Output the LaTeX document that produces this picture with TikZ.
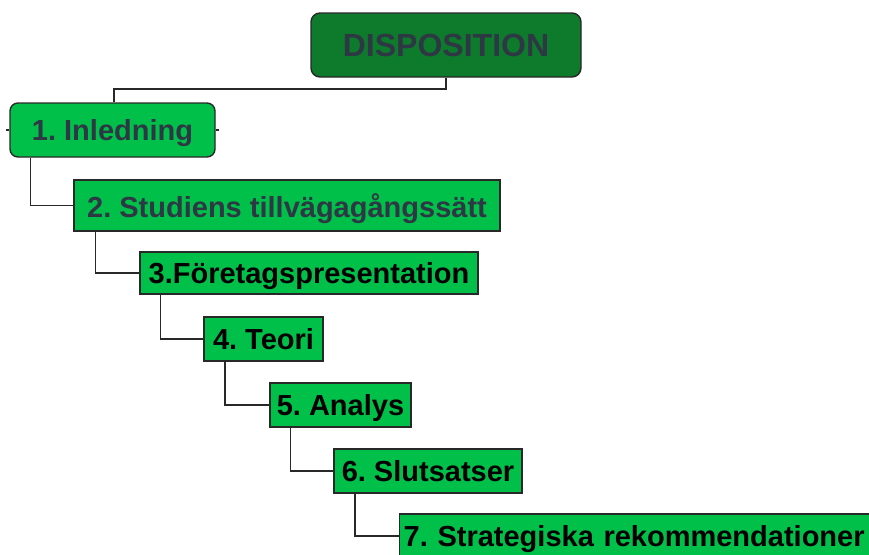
\documentclass[tikz,border=0pt]{standalone}
\usepackage{fontspec}
\setmainfont{Liberation Sans}
\frenchspacing
\definecolor{boxgreen}{RGB}{0,192,74}
\definecolor{darkgreen}{RGB}{14,122,44}
\definecolor{slate}{RGB}{46,56,68}
\definecolor{edgegray}{RGB}{40,40,40}
\begin{document}
\begin{tikzpicture}[x=1pt,y=-1pt,
  chapter/.style={draw=edgegray,line width=1.4pt,fill=boxgreen,inner sep=0pt,
    font=\fontsize{29}{34}\selectfont\bfseries,text=black,text depth=0pt},
  topbox/.style={chapter,rounded corners=9pt},
  link/.style={draw=edgegray,line width=1.6pt}]
\clip (0,0) rectangle (869,554);
\fill[white] (0,0) rectangle (869,554);

% title and chapter boxes
\node[topbox,fill=darkgreen,text=slate,minimum width=270pt,minimum height=64pt,
  font=\fontsize{32}{36}\selectfont\bfseries] (D) at (446,45) {DISPOSITION};
\node[topbox,rounded corners=8pt,text=slate,minimum width=205pt,minimum height=54pt] (n1) at (112.5,130) {1. Inledning};
\node[chapter,text=slate,minimum width=426pt,minimum height=51pt] (n2) at (287,205.5) {2. Studiens tillvägagångssätt};
\node[chapter,minimum width=338pt,minimum height=42pt] (n3) at (309,273) {3.Företagspresentation};
\node[chapter,minimum width=119pt,minimum height=44pt] (n4) at (263.5,339) {4. Teori};
\node[chapter,minimum width=141pt,minimum height=44pt] (n5) at (340.5,405) {5. Analys};
\node[chapter,minimum width=188pt,minimum height=44pt] (n6) at (428,471) {6. Slutsatser};
\node[chapter,anchor=west,inner xsep=4pt,text width=476pt,align=left,minimum height=44pt] (n7) at (399,536) {7. Strategiska rekommendationer};

% connectors
\draw[link] (D.south) -- (D.south |- 0,88.7) -| ([xshift=1.5pt]n1.north);
\draw[link] ([xshift=21pt]n1.south west) |- (n2.west);
\draw[link] ([xshift=22pt]n2.south west) |- (n3.west);
\draw[link] ([xshift=21pt]n3.south west) |- (n4.west);
\draw[link] ([xshift=21.7pt]n4.south west) |- (n5.west);
\draw[link] ([xshift=21pt]n5.south west) |- (n6.west);
\draw[link] ([xshift=21.7pt]n6.south west) |- (n7.west);

% short stubs on the first box
\coordinate (s1) at ([xshift=-3.5pt]n1.west);
\coordinate (s2) at ([xshift=3pt]n1.east);
\draw[link] (n1.west) -- (s1);
\draw[link] (n1.east) -- (s2);
\end{tikzpicture}
\end{document}
